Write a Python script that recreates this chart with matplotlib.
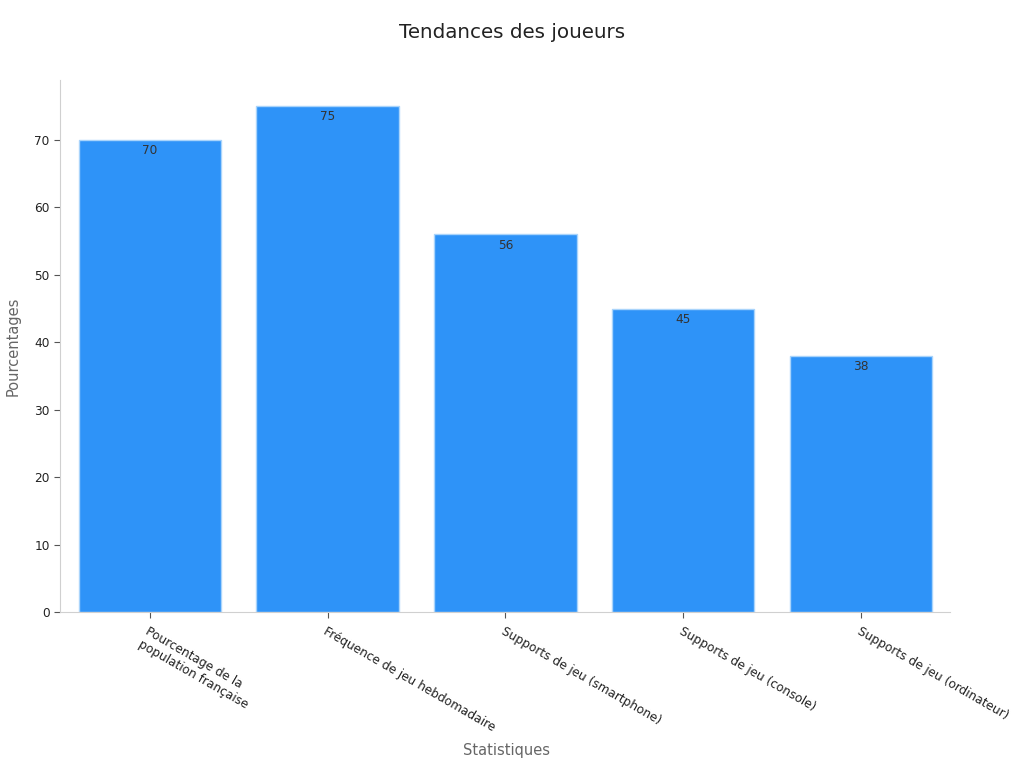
import matplotlib
matplotlib.use("Agg")
import matplotlib.pyplot as plt

categories = ["Pourcentage de la\npopulation française", "Fréquence de jeu hebdomadaire",
              "Supports de jeu (smartphone)", "Supports de jeu (console)", "Supports de jeu (ordinateur)"]
values = [70, 75, 56, 45, 38]
yticks = [0, 10, 20, 30, 40, 50, 60, 70]

plt.rcParams['font.family'] = ['DejaVu Sans']
fig = plt.figure(figsize=(10.24, 7.68), dpi=100)
ax = fig.add_axes([60/1024, 1-612/768, 890/1024, 532/768])

x = list(range(len(categories)))
bars = ax.bar(x, values, width=0.8, color="#2E93F8", edgecolor="#A9D4FB", linewidth=1)
for xi, v in zip(x, values):
    ax.annotate(str(v), (xi, v), xytext=(0, -3), textcoords="offset points",
                ha="center", va="top", fontsize=8.7, color="#333333")

ax.set_xlim(-0.505, 4.5)
ax.set_ylim(0, 78.9)
ax.set_yticks(yticks)
ax.set_xticks(x)
ax.set_xticklabels(categories, rotation=-30, ha="left", rotation_mode="anchor", fontsize=8.7, color="#222222")
ax.tick_params(axis="y", labelsize=8.7, labelcolor="#222222", color="#555555", length=4)
ax.tick_params(axis="x", color="#555555", length=4, pad=5)
for s in ["top", "right"]:
    ax.spines[s].set_visible(False)
for s in ["left", "bottom"]:
    ax.spines[s].set_color("#D0D0D0")

fig.text(13/1024, 1-346/768, "Pourcentages", rotation=90, ha="center", va="center", fontsize=10.5, color="#666666")
fig.text(506/1024, 1-750/768, "Statistiques", ha="center", va="center", fontsize=10.5, color="#666666")
fig.text(512/1024, 1-33/768, "Tendances des joueurs", ha="center", va="center", fontsize=14.3, color="#222222")

fig.savefig("out.png", dpi=100)
